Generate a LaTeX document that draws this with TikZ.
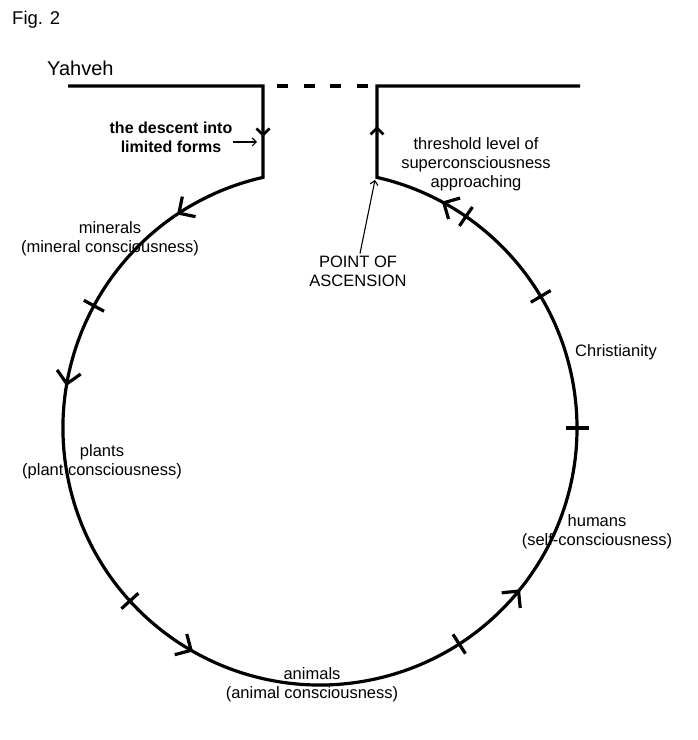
\documentclass[tikz,border=0pt]{standalone}
\usepackage{fontspec}
\setmainfont{Liberation Sans}
\usetikzlibrary{arrows.meta,calc}
\tikzset{
  curve/.style={line width=3.2pt},
  thinarrow/.style={line width=1.1pt,-{Straight Barb[length=4pt,width=8pt]}},
  lbl/.style={align=center, inner sep=0pt, font=\fontsize{16.5}{19}\selectfont},
  boldlbl/.style={align=center, inner sep=0pt, font=\bfseries\fontsize{16}{19}\selectfont},
  barb/.pic={\draw[line width=3.2pt] (-12,12) -- (0,0) -- (-12,-12);},
  sbarb/.pic={\draw[line width=2.5pt] (-6.5,6.5) -- (0,0) -- (-6.5,-6.5);},
  tickmark/.pic={\draw[line width=3.2pt] (-11.5,0) -- (11.5,0);}
}
\begin{document}
\begin{tikzpicture}[x=1pt,y=1pt]
\fill[white] (0,0) rectangle (698,740);
\useasboundingbox (0,0) rectangle (698,740);
\coordinate (c) at (320,312);
% main line with circle
\draw[curve, line join=miter] (68,654) -- (263,654) -- (263,562.6)
  arc[start angle=102.81, end angle=437.19, radius=257] -- (377,654) -- (580,654);
% dashed gap
\draw[line width=3.2pt, dash pattern=on 11pt off 15.7pt] (277,654) -- (368.2,654);
% ticks
\foreach \a in {151.6,222.3,302.8,0,30.8,55.4}
  \pic[rotate=\a] at ($(c)+(\a:257)$) {tickmark};
% arrows on circle
\foreach \a in {123.3,170.1,239.9,320.6,61.2}
  \pic[rotate=\a+90] at ($(c)+(\a:257)$) {barb};
% arrows on verticals
\pic[rotate=-90] at (263,605) {sbarb};
\pic[rotate=90] at (377,612) {sbarb};
% texts
\node[anchor=base west, inner sep=0pt, font=\fontsize{18.5}{22}\selectfont] (fig) at (12,715) {Fig. 2};
\node[anchor=base west, inner sep=0pt, font=\fontsize{20}{22}\selectfont] (yah) at (47,664) {Yahveh};
\node[boldlbl] (desc) at (171,602.5) {the descent into\\limited forms};
\coordinate (dS) at (233,598);
\coordinate (dE) at (257,598);
\draw[thinarrow] (dS) -- (dE);
\node[lbl] (thr) at (476,576) {threshold level of\\superconsciousness\\approaching};
\node[lbl] (pa) at (358,469) {POINT OF\\ASCENSION};
\coordinate (apex) at (375,560);
\draw[thinarrow] ([xshift=2pt,yshift=2pt]pa.north) -- (apex);
\node[lbl] (min) at (110,501) {minerals\\(mineral consciousness)};
\node[lbl] (pl) at (102,278) {plants\\(plant consciousness)};
\node[lbl] (chr) at (616,388) {Christianity};
\node[lbl] (hum) at (597,208) {humans\\(self-consciousness)};
\node[lbl] (ani) at (312,55) {animals\\(animal consciousness)};
\end{tikzpicture}
\end{document}
